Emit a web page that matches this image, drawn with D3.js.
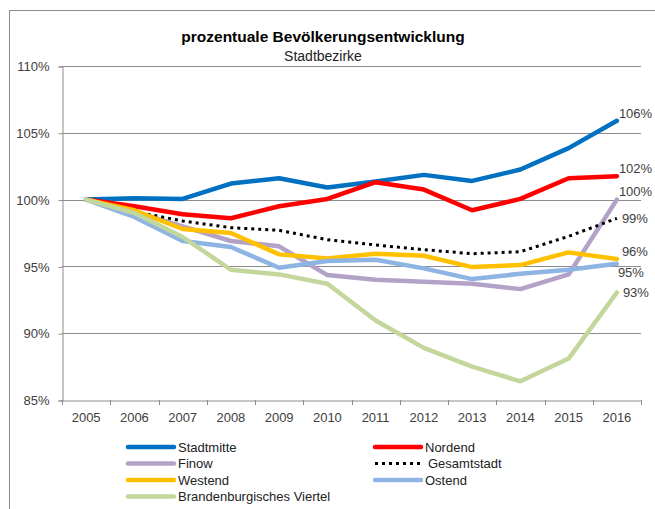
<!DOCTYPE html>
<html>
<head>
    <meta charset="utf-8">
    <style>
        body {
            margin: 0;
            background: white;
            font-family: 'Liberation Sans', Arial, sans-serif;
        }

        svg {
            display: block;
        }
    </style>
</head>
<body>
    <svg width="655" height="509"></svg>

<script src="https://d3js.org/d3.v7.min.js"></script>
<script>
    // categories
    let years = ["2005", "2006", "2007", "2008", "2009", "2010", "2011", "2012", "2013", "2014", "2015", "2016"];

    // series values, in percent of 2005
    let stadtmitte = [100, 100.1, 100.05, 101.2, 101.6, 100.9, 101.35, 101.85, 101.4, 102.25, 103.85, 105.9];
    let nordend = [100, 99.5, 98.9, 98.6, 99.5, 100.05, 101.3, 100.75, 99.2, 100.05, 101.6, 101.75];
    let finow = [100, 99.1, 98.0, 96.9, 96.5, 94.35, 94.0, 93.85, 93.7, 93.3, 94.4, 100.0];
    let gesamtstadt = [100, 99.1, 98.4, 97.9, 97.7, 97.0, 96.6, 96.25, 95.95, 96.1, 97.25, 98.6];
    let westend = [100, 99.2, 97.8, 97.5, 95.9, 95.6, 95.95, 95.8, 94.95, 95.1, 96.05, 95.55];
    let ostend = [100, 98.7, 96.9, 96.45, 94.9, 95.4, 95.5, 94.85, 94.05, 94.45, 94.75, 95.2];
    let brandenburg = [100, 99.0, 97.2, 94.75, 94.4, 93.7, 90.95, 88.9, 87.5, 86.4, 88.1, 93.05];

    let seriesNames = ["Stadtmitte", "Nordend", "Finow", "Gesamtstadt", "Westend", "Ostend", "Brandenburgisches Viertel"];
    let seriesValues = [stadtmitte, nordend, finow, gesamtstadt, westend, ostend, brandenburg];

    // y tick labels
    let yTicks = [85, 90, 95, 100, 105, 110];

    // styles
    let colors = ["#0070C0", "#FF0000", "#B3A2C7", "#000000", "#FFC000", "#8EB4E3", "#C3D69B"];
    let dotted = [false, false, false, true, false, false, false];
    // where the end label sits relative to the last point
    let labelOffsets = [[2, -7], [2, -8], [2, -8], [5, 0], [5, -8], [1, 9], [6, 0]];

    let svg = d3.select("svg");

    let margin = {left: 62, right: 641, top: 66, bottom: 400};

    // outer frame (chart is cut off on the right)
    svg.append("rect")
        .attr("x", 9.5)
        .attr("y", 10.5)
        .attr("width", 700)
        .attr("height", 600)
        .attr("fill", "white")
        .attr("stroke", "#8c8c8c")
        .attr("stroke-width", 1);

    let x = d3.scaleBand()
        .domain(years)
        .range([margin.left, margin.right]);

    let y = d3.scaleLinear()
        .domain([85, 110])
        .range([margin.bottom, margin.top]);

    // title
    svg.append("text")
        .attr("x", 323)
        .attr("y", 42)
        .attr("text-anchor", "middle")
        .style("font-size", "15.5px")
        .style("font-weight", "bold")
        .style("fill", "#000")
        .text("prozentuale Bevölkerungsentwicklung");

    svg.append("text")
        .attr("x", 323)
        .attr("y", 61)
        .attr("text-anchor", "middle")
        .style("font-size", "14px")
        .style("fill", "#222")
        .text("Stadtbezirke");

    // gridlines
    svg.append("g")
        .selectAll("line")
        .data(yTicks.slice(1))
        .join("line")
        .attr("x1", margin.left)
        .attr("x2", margin.right)
        .attr("y1", d => Math.round(y(d)) + 0.5)
        .attr("y2", d => Math.round(y(d)) + 0.5)
        .attr("stroke", "#8c8c8c")
        .attr("stroke-width", 1);

    // y axis
    let yAxis = svg.append("g")
        .attr("transform", "translate(" + (margin.left + 0.5) + ",0.5)")
        .call(d3.axisLeft(y)
            .tickValues(yTicks)
            .tickSize(4)
            .tickPadding(9)
            .tickFormat(d => d + "%"));

    yAxis.selectAll("path, line").attr("stroke", "#8c8c8c");
    yAxis.selectAll("text")
        .style("font-size", "13px")
        .style("font-family", "'Liberation Sans', Arial, sans-serif")
        .style("fill", "#404040");

    // x axis: labels at category centres, ticks between categories
    let xAxis = svg.append("g")
        .attr("transform", "translate(0," + (margin.bottom + 0.5) + ")")
        .call(d3.axisBottom(x).tickSize(0).tickPadding(12));

    xAxis.select("path").attr("stroke", "#8c8c8c");
    xAxis.selectAll("text")
        .style("font-size", "13px")
        .style("font-family", "'Liberation Sans', Arial, sans-serif")
        .style("fill", "#404040");

    let boundaries = years.map(d => x(d)).concat([x.range()[1]]);
    svg.append("g")
        .selectAll("line")
        .data(boundaries)
        .join("line")
        .attr("x1", d => Math.round(d) + 0.5)
        .attr("x2", d => Math.round(d) + 0.5)
        .attr("y1", margin.bottom)
        .attr("y2", margin.bottom + 5)
        .attr("stroke", "#8c8c8c");

    // lines
    let line = d3.line()
        .x((d, i) => x(years[i]) + x.bandwidth() / 2)
        .y(d => y(d));

    svg.append("g")
        .selectAll("path")
        .data(seriesValues)
        .join("path")
        .attr("d", line)
        .attr("fill", "none")
        .attr("stroke", (d, i) => colors[i])
        .attr("stroke-width", (d, i) => dotted[i] ? 3 : 4.5)
        .attr("stroke-dasharray", (d, i) => dotted[i] ? "3,4" : null)
        .attr("stroke-linejoin", "round")
        .attr("stroke-linecap", (d, i) => dotted[i] ? "butt" : "round");

    // end labels
    let pct = d3.format(".0%");
    svg.append("g")
        .selectAll("text")
        .data(seriesValues)
        .join("text")
        .attr("x", (d, i) => x(years[years.length - 1]) + x.bandwidth() / 2 + labelOffsets[i][0])
        .attr("y", (d, i) => y(d[d.length - 1]) + labelOffsets[i][1])
        .attr("dy", "0.35em")
        .style("font-size", "13px")
        .style("fill", "#404040")
        .text(d => pct(d[d.length - 1] / 100));

    // legend
    let legendX = [126, 373];
    let legendY = [447, 463.5, 480, 496.5];

    let legend = svg.append("g")
        .selectAll("g")
        .data(seriesNames)
        .join("g")
        .attr("transform", (d, i) => "translate(" + legendX[i % 2] + "," + legendY[Math.floor(i / 2)] + ")");

    legend.append("line")
        .attr("x1", 2)
        .attr("x2", 48)
        .attr("y1", 0)
        .attr("y2", 0)
        .attr("stroke", (d, i) => colors[i])
        .attr("stroke-width", (d, i) => dotted[i] ? 3 : 4.5)
        .attr("stroke-dasharray", (d, i) => dotted[i] ? "3,4" : null)
        .attr("stroke-linecap", (d, i) => dotted[i] ? "butt" : "round");

    legend.append("text")
        .attr("x", (d, i) => dotted[i] ? 55 : 52)
        .attr("y", 0)
        .attr("dy", "0.35em")
        .style("font-size", "13px")
        .style("fill", "#222")
        .text(d => d);
</script>
</body>
</html>
